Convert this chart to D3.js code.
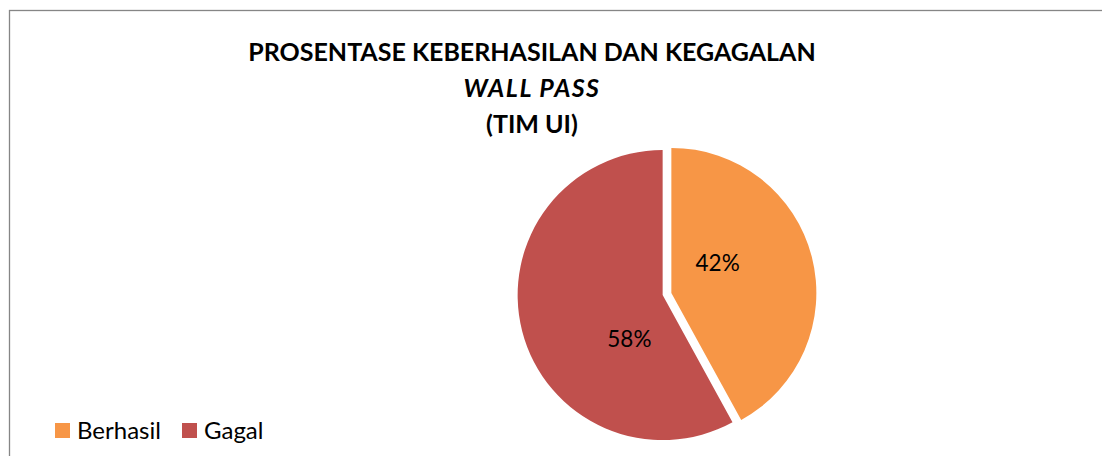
<!DOCTYPE html>
<html>
<head>
<meta charset="utf-8">
<script src="https://cdn.jsdelivr.net/npm/d3@7"></script>
<style>
  body { margin: 0; background: #fff; }
  text { font-family: Lato, "Open Sans", sans-serif; fill: #000; }
</style>
</head>
<body>
<div id="chart"></div>
<script>
// chart data
const categories = ['Berhasil', 'Gagal'];
const values = [42, 58];
const colors = ['#F79646', '#C0504D'];
const titleLines = ['PROSENTASE KEBERHASILAN DAN KEGAGALAN', 'WALL PASS', '(TIM UI)'];

const width = 1102, height = 456;
const cx = 667, cy = 294, radius = 145, explode = 4.5;

const svg = d3.select('#chart')
  .append('svg')
    .attr('width', width)
    .attr('height', height);

// chart frame (only top and left edges show in the window)
svg.append('rect')
    .attr('x', 9.5)
    .attr('y', 10.5)
    .attr('width', width + 20)
    .attr('height', height + 20)
    .attr('fill', 'none')
    .attr('stroke', '#868686')
    .attr('stroke-width', 1.3);

// title, middle line is italic
const title = svg.append('text')
    .attr('text-anchor', 'middle')
    .style('font-weight', 'bold')
    .style('font-size', '25px');

titleLines.forEach((t, i) => {
  title.append('tspan')
      .attr('x', 532)
      .attr('y', 61 + i * 36)
      .style('font-style', i === 1 ? 'italic' : 'normal')
      .style('letter-spacing', i === 1 ? '1.5px' : '0px')
      .text(t);
});

// pie
const data = categories.map((c, i) => ({ name: c, value: values[i], color: colors[i] }));
const pie = d3.pie().value(d => d.value).sort(null);
const arc = d3.arc().innerRadius(0).outerRadius(radius);
const arcs = pie(data);

// label angle shift from bisector and label distance
const labelShift = [-0.32, -0.67];
const labelDist = 55;

const g = svg.append('g')
    .attr('transform', 'translate(' + cx + ',' + cy + ')');

const slices = g.selectAll('.slice')
  .data(arcs)
  .enter()
  .append('g')
    .attr('class', 'slice')
    .attr('transform', d => {
      const a = (d.startAngle + d.endAngle) / 2;
      return 'translate(' + (Math.sin(a) * explode) + ',' + (-Math.cos(a) * explode) + ')';
    });

slices.append('path')
    .attr('d', arc)
    .attr('fill', d => d.data.color);

slices.append('text')
    .attr('text-anchor', 'middle')
    .attr('dy', '0.35em')
    .style('font-size', '22.5px')
    .attr('x', (d, i) => Math.sin((d.startAngle + d.endAngle) / 2 + labelShift[i]) * labelDist)
    .attr('y', (d, i) => -Math.cos((d.startAngle + d.endAngle) / 2 + labelShift[i]) * labelDist)
    .text(d => d.data.value + '%');

// legend
const legend = svg.append('g')
    .attr('transform', 'translate(55,423)');

const item = legend.selectAll('.item')
  .data(data)
  .enter()
  .append('g')
    .attr('class', 'item')
    .attr('transform', (d, i) => 'translate(' + (i * 127) + ',0)');

item.append('rect')
    .attr('width', 15)
    .attr('height', 15)
    .attr('fill', d => d.color);

item.append('text')
    .attr('x', 22)
    .attr('y', 8)
    .attr('dy', '0.35em')
    .style('font-size', '24px')
    .text(d => d.name);
</script>
</body>
</html>
